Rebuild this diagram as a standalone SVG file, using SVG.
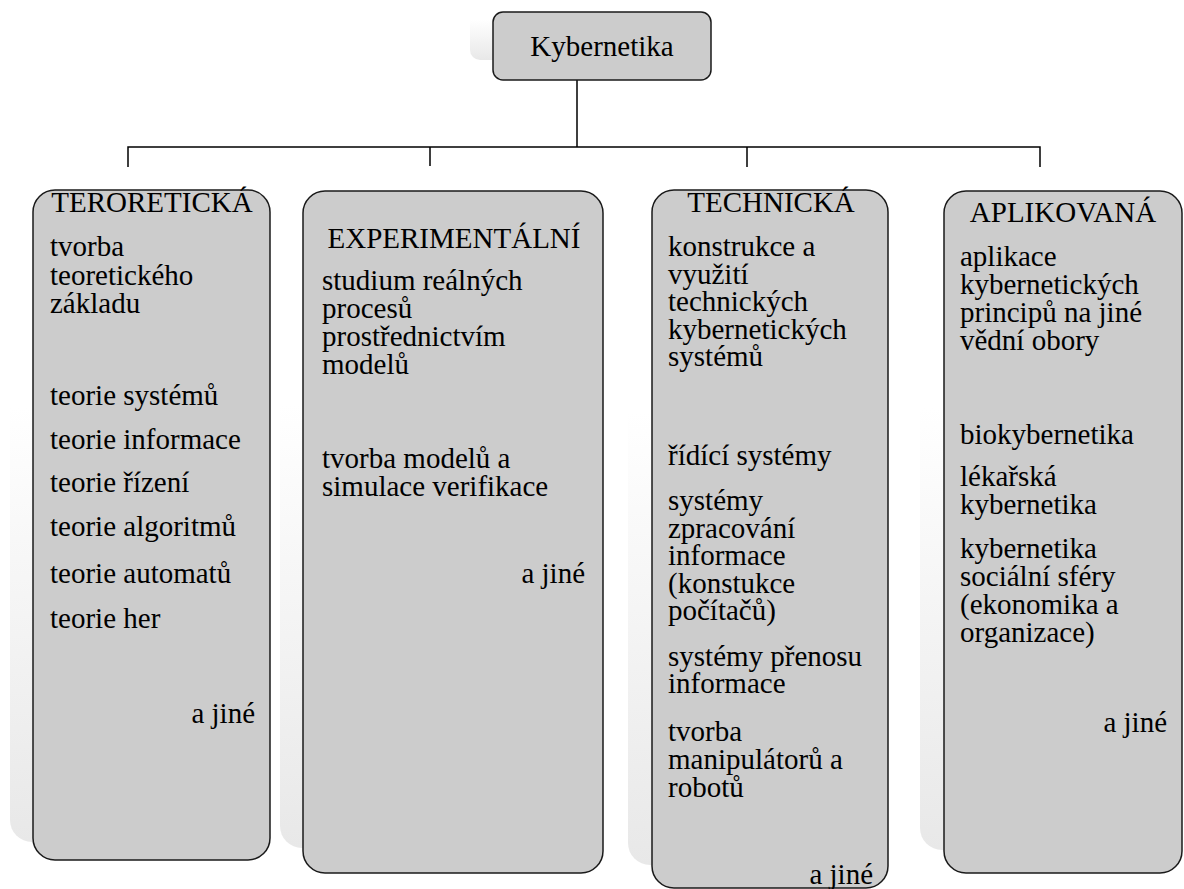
<svg xmlns="http://www.w3.org/2000/svg" width="1184" height="889" viewBox="0 0 1184 889">
<defs>
<linearGradient id="sh" x1="0" y1="0" x2="0" y2="1">
<stop offset="0" stop-color="#ffffff"/>
<stop offset="0.35" stop-color="#ffffff"/>
<stop offset="1" stop-color="#e8e8e8"/>
</linearGradient>
<linearGradient id="sht" x1="0" y1="0" x2="0" y2="1">
<stop offset="0" stop-color="#ffffff"/>
<stop offset="0.4" stop-color="#ffffff"/>
<stop offset="1" stop-color="#e8e8e8"/>
</linearGradient>
</defs>
<style>
.box{fill:#cccccc;stroke:#1a1a1a;stroke-width:1.5}
.shadow{fill:url(#sh)}
.t{font-family:"Liberation Serif","Times New Roman",serif;font-size:29px;fill:#000}
.c{text-anchor:middle}
.r{text-anchor:end}
.conn{fill:none;stroke:#000;stroke-width:1.5}
</style>
<rect width="1184" height="889" fill="#ffffff"/>
<g id="connectors">
<path class="conn" d="M577 80 V147 M128 167 V147 H1040 V167 M430 147 V167 M747 147 V167"/>
</g>
<g id="root">
<rect x="470" y="-8" width="218" height="68" rx="10" fill="url(#sht)"/>
<rect class="box" x="493" y="12" width="218" height="68" rx="10"/>
<text class="t c" x="602" y="56">Kybernetika</text>
</g>
<g id="teoreticka">
<rect class="shadow" x="10" y="172" width="237" height="670" rx="22"/>
<rect class="box" x="33" y="190" width="237" height="670" rx="22"/>
<text class="t c" x="152" y="212">TERORETICKÁ</text>
<text class="t" x="50" y="256">tvorba</text>
<text class="t" x="50" y="285">teoretického</text>
<text class="t" x="50" y="313">základu</text>
<text class="t" x="50" y="405">teorie systémů</text>
<text class="t" x="50" y="449">teorie informace</text>
<text class="t" x="50" y="492">teorie řízení</text>
<text class="t" x="50" y="536">teorie algoritmů</text>
<text class="t" x="50" y="583">teorie automatů</text>
<text class="t" x="50" y="628">teorie her</text>
<text class="t r" x="255" y="723">a jiné</text>
</g>
<g id="experimentalni">
<rect class="shadow" x="280" y="166" width="300" height="682" rx="22"/>
<rect class="box" x="303" y="191" width="300" height="682" rx="22"/>
<text class="t c" x="454" y="248">EXPERIMENTÁLNÍ</text>
<text class="t" x="322" y="290">studium reálných</text>
<text class="t" x="322" y="318">procesů</text>
<text class="t" x="322" y="346">prostřednictvím</text>
<text class="t" x="322" y="374">modelů</text>
<text class="t" x="322" y="468">tvorba modelů a</text>
<text class="t" x="322" y="496">simulace verifikace</text>
<text class="t r" x="585" y="583">a jiné</text>
</g>
<g id="technicka">
<rect class="shadow" x="628" y="167" width="236" height="698" rx="22"/>
<rect class="box" x="652" y="190" width="236" height="698" rx="22"/>
<text class="t c" x="771" y="212">TECHNICKÁ</text>
<text class="t" x="668" y="256">konstrukce a</text>
<text class="t" x="668" y="284">využití</text>
<text class="t" x="668" y="311">technických</text>
<text class="t" x="668" y="339">kybernetických</text>
<text class="t" x="668" y="366">systémů</text>
<text class="t" x="668" y="465">řídící systémy</text>
<text class="t" x="668" y="510">systémy</text>
<text class="t" x="668" y="538">zpracování</text>
<text class="t" x="668" y="565">informace</text>
<text class="t" x="668" y="593">(konstukce</text>
<text class="t" x="668" y="620">počítačů)</text>
<text class="t" x="668" y="666">systémy přenosu</text>
<text class="t" x="668" y="693">informace</text>
<text class="t" x="668" y="741">tvorba</text>
<text class="t" x="668" y="769">manipulátorů a</text>
<text class="t" x="668" y="797">robotů</text>
<text class="t r" x="873" y="884">a jiné</text>
</g>
<g id="aplikovana">
<rect class="shadow" x="920" y="168" width="238" height="682" rx="22"/>
<rect class="box" x="944" y="191" width="238" height="682" rx="22"/>
<text class="t c" x="1063" y="222">APLIKOVANÁ</text>
<text class="t" x="960" y="266">aplikace</text>
<text class="t" x="960" y="294">kybernetických</text>
<text class="t" x="960" y="322">principů na jiné</text>
<text class="t" x="960" y="350">vědní obory</text>
<text class="t" x="960" y="444">biokybernetika</text>
<text class="t" x="960" y="486">lékařská</text>
<text class="t" x="960" y="514">kybernetika</text>
<text class="t" x="960" y="558">kybernetika</text>
<text class="t" x="960" y="586">sociální sféry</text>
<text class="t" x="960" y="614">(ekonomika a</text>
<text class="t" x="960" y="642">organizace)</text>
<text class="t r" x="1167" y="732">a jiné</text>
</g>
</svg>
